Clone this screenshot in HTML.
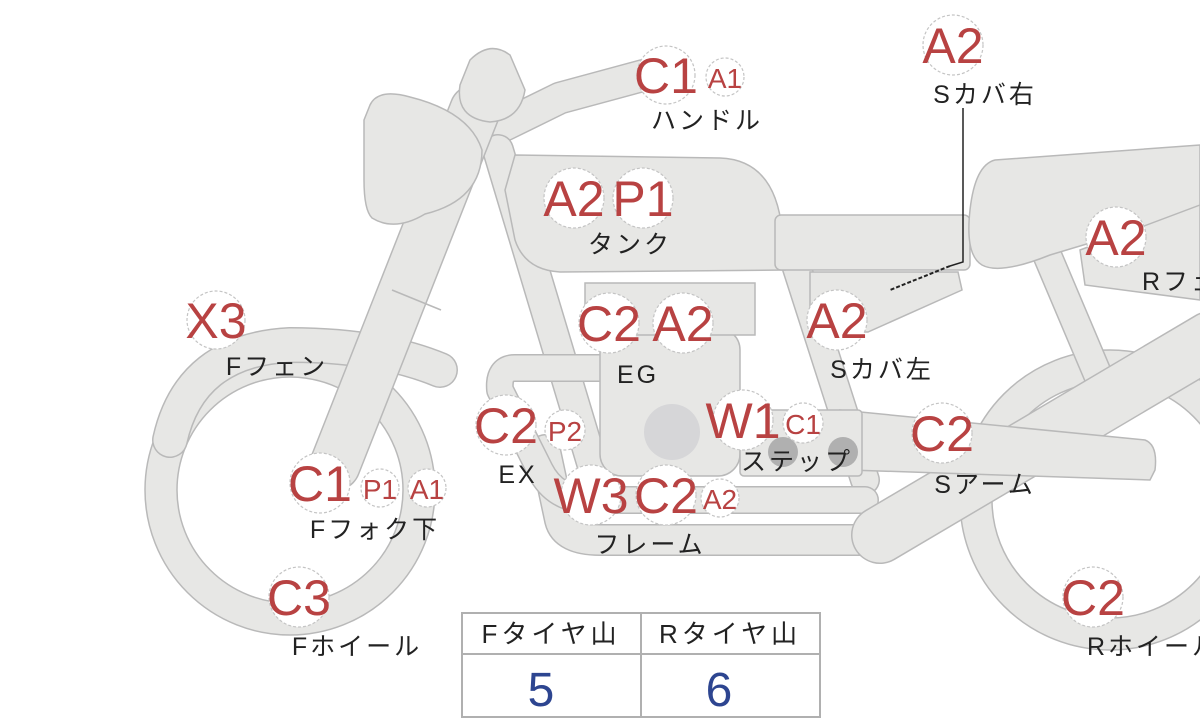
<!DOCTYPE html>
<html><head><meta charset="utf-8"><style>
html,body{margin:0;padding:0;background:#fff;}
svg{display:block;}
.t{stroke:#b9b9b9;fill:none;stroke-linecap:round;stroke-linejoin:round;}
.f{stroke:#e7e7e5;fill:none;stroke-linecap:round;stroke-linejoin:round;}
.s{fill:#e7e7e5;stroke:#b9b9b9;stroke-width:1.5;}
.b{fill:#fff;stroke:#c4c4c4;stroke-width:1.2;stroke-dasharray:3 2;}
.r{fill:#b84242;font-family:"Liberation Sans",sans-serif;text-anchor:middle;}
.l{fill:#222;font-family:"Liberation Sans","Noto Sans CJK JP",sans-serif;font-size:25px;letter-spacing:3px;text-anchor:middle;}
</style></head><body>
<svg width="1200" height="720" viewBox="0 0 1200 720" xmlns="http://www.w3.org/2000/svg">
<path class="s" fill-rule="evenodd" d="M145,490a145,145 0 1,0 290,0a145,145 0 1,0 -290,0Z M177,490a113,113 0 1,0 226,0a113,113 0 1,0 -226,0Z"/>
<path class="s" fill-rule="evenodd" d="M960,500a150,150 0 1,0 300,0a150,150 0 1,0 -300,0Z M992,500a118,118 0 1,0 236,0a118,118 0 1,0 -236,0Z"/>
<path class="t" stroke-width="36" d="M170,440 Q190,350 290,345 Q380,345 440,370"/>
<path class="f" stroke-width="33" d="M170,440 Q190,350 290,345 Q380,345 440,370"/>
<g>
<path class="t" stroke-width="33" d="M505,125 L560,98 L645,75"/>
<path class="f" stroke-width="30" d="M505,125 L560,98 L645,75"/>
<path class="t" stroke-width="32" d="M498,150 L600,490"/>
<path class="f" stroke-width="29" d="M498,150 L600,490"/>
<path class="t" stroke-width="30" d="M795,262 L865,480"/>
<path class="f" stroke-width="27" d="M795,262 L865,480"/>
<path class="t" stroke-width="30" d="M1045,250 L1100,380"/>
<path class="f" stroke-width="27" d="M1045,250 L1100,380"/>
<path class="t" stroke-width="32" d="M545,450 L560,520 Q565,540 600,540 L880,540"/>
<path class="f" stroke-width="29" d="M545,450 L560,520 Q565,540 600,540 L880,540"/>
<path class="t" stroke-width="28" d="M610,368 L515,368 Q498,368 500,390 L540,470 Q555,500 590,500 L865,500"/>
<path class="f" stroke-width="25" d="M610,368 L515,368 Q498,368 500,390 L540,470 Q555,500 590,500 L865,500"/>
<path class="t" stroke-width="58" d="M880,535 L1210,340"/>
<path class="f" stroke-width="55" d="M880,535 L1210,340"/>
<path class="s" d="M840,410 L1145,440 Q1158,445 1155,470 L1150,480 L850,470 Z"/>
<path class="t" stroke-width="52" d="M475,110 L335,465"/>
<path class="f" stroke-width="49" d="M475,110 L335,465"/>
<path class="s" stroke-width="1.2" d="M392,290 L441,310" fill="none"/>
</g>
<path class="s" d="M515,155 L720,158 Q775,160 782,230 L785,270 L560,272 Q525,270 515,240 L505,190 Z"/>
<rect class="s" x="775" y="215" width="195" height="55" rx="6"/>
<path class="s" d="M810,272 L958,272 L962,290 L868,332 L810,332 Z"/>
<path class="s" d="M995,160 L1200,145 L1200,210 L1050,255 Q1000,275 982,265 Q965,255 970,210 Q975,165 995,160 Z"/>
<path class="s" d="M1080,250 L1200,205 L1200,300 L1085,285 Z"/>
<rect class="s" x="600" y="328" width="140" height="148" rx="22"/>
<rect class="s" x="585" y="283" width="170" height="52"/>
<circle cx="672" cy="432" r="28" fill="#d6d6d8"/>
<rect class="s" x="740" y="410" width="122" height="66" rx="4"/>
<circle cx="783" cy="452" r="15" fill="#b0b0b0"/>
<circle cx="843" cy="452" r="15" fill="#b0b0b0"/>
<path class="s" d="M470,60 Q490,40 510,55 L525,90 Q520,120 490,122 Q455,118 460,85 Z"/>
<path class="s" d="M370,105 Q378,88 410,97 Q470,112 482,150 Q482,200 425,214 Q395,232 372,218 Q364,210 364,180 L364,120 Z"/>
<path d="M963,108 L963,262 L950,266" stroke="#222" stroke-width="1.5" fill="none"/>
<path d="M950,266 L890,290" stroke="#222" stroke-width="2" stroke-dasharray="4 2" fill="none"/>
<g>
<circle class="b" cx="666" cy="75" r="29"/><text class="r" x="666" y="93" font-size="50">C1</text>
<circle class="b" cx="725" cy="77" r="19"/><text class="r" x="725" y="88" font-size="28">A1</text>
<circle class="b" cx="953" cy="45" r="30"/><text class="r" x="953" y="63" font-size="50">A2</text>
<circle class="b" cx="574" cy="198" r="30"/><text class="r" x="574" y="216" font-size="50">A2</text>
<circle class="b" cx="643" cy="198" r="30"/><text class="r" x="643" y="216" font-size="50">P1</text>
<circle class="b" cx="216" cy="320" r="29"/><text class="r" x="216" y="338" font-size="50">X3</text>
<circle class="b" cx="609" cy="323" r="30"/><text class="r" x="609" y="341" font-size="50">C2</text>
<circle class="b" cx="683" cy="323" r="30"/><text class="r" x="683" y="341" font-size="50">A2</text>
<circle class="b" cx="837" cy="320" r="30"/><text class="r" x="837" y="338" font-size="50">A2</text>
<circle class="b" cx="506" cy="425" r="30"/><text class="r" x="506" y="443" font-size="50">C2</text>
<circle class="b" cx="565" cy="430" r="20"/><text class="r" x="565" y="441" font-size="28">P2</text>
<circle class="b" cx="743" cy="420" r="30"/><text class="r" x="743" y="438" font-size="50">W1</text>
<circle class="b" cx="803" cy="423" r="20"/><text class="r" x="803" y="434" font-size="28">C1</text>
<circle class="b" cx="942" cy="433" r="30"/><text class="r" x="942" y="451" font-size="50">C2</text>
<circle class="b" cx="320" cy="483" r="30"/><text class="r" x="320" y="501" font-size="50">C1</text>
<circle class="b" cx="380" cy="488" r="19"/><text class="r" x="380" y="499" font-size="28">P1</text>
<circle class="b" cx="427" cy="488" r="19"/><text class="r" x="427" y="499" font-size="28">A1</text>
<circle class="b" cx="591" cy="495" r="30"/><text class="r" x="591" y="513" font-size="50">W3</text>
<circle class="b" cx="666" cy="495" r="30"/><text class="r" x="666" y="513" font-size="50">C2</text>
<circle class="b" cx="720" cy="498" r="19"/><text class="r" x="720" y="509" font-size="28">A2</text>
<circle class="b" cx="299" cy="597" r="30"/><text class="r" x="299" y="615" font-size="50">C3</text>
<circle class="b" cx="1116" cy="237" r="30"/><text class="r" x="1116" y="255" font-size="50">A2</text>
<circle class="b" cx="1093" cy="597" r="30"/><text class="r" x="1093" y="615" font-size="50">C2</text>
</g>
<text class="l" x="707" y="129">ハンドル</text>
<text class="l" x="985" y="103">Sカバ右</text>
<text class="l" x="630" y="253">タンク</text>
<text class="l" x="277" y="375">Fフェン</text>
<text class="l" x="638" y="383">EG</text>
<text class="l" x="882" y="378">Sカバ左</text>
<text class="l" x="518" y="483">EX</text>
<text class="l" x="797" y="470">ステップ</text>
<text class="l" x="985" y="493">Sアーム</text>
<text class="l" x="375" y="538">Fフォク下</text>
<text class="l" x="650" y="553">フレーム</text>
<text class="l" x="357" y="655">Fホイール</text>
<text class="l" x="1142" y="290" style="text-anchor:start">Rフェン</text>
<text class="l" x="1087" y="655" style="text-anchor:start">Rホイール</text>
<rect x="462" y="613" width="358" height="104" fill="#fff" stroke="#b0b0b0" stroke-width="2"/>
<line x1="462" y1="654" x2="820" y2="654" stroke="#b0b0b0" stroke-width="2"/>
<line x1="641" y1="613" x2="641" y2="717" stroke="#b0b0b0" stroke-width="2"/>
<text class="l" x="551" y="643" style="font-size:26px;letter-spacing:4px">Fタイヤ山</text>
<text class="l" x="730" y="643" style="font-size:26px;letter-spacing:4px">Rタイヤ山</text>
<text x="541" y="706" font-family="Liberation Sans,sans-serif" font-size="48" fill="#2d4590" text-anchor="middle">5</text>
<text x="719" y="706" font-family="Liberation Sans,sans-serif" font-size="48" fill="#2d4590" text-anchor="middle">6</text>
</svg>
</body></html>
